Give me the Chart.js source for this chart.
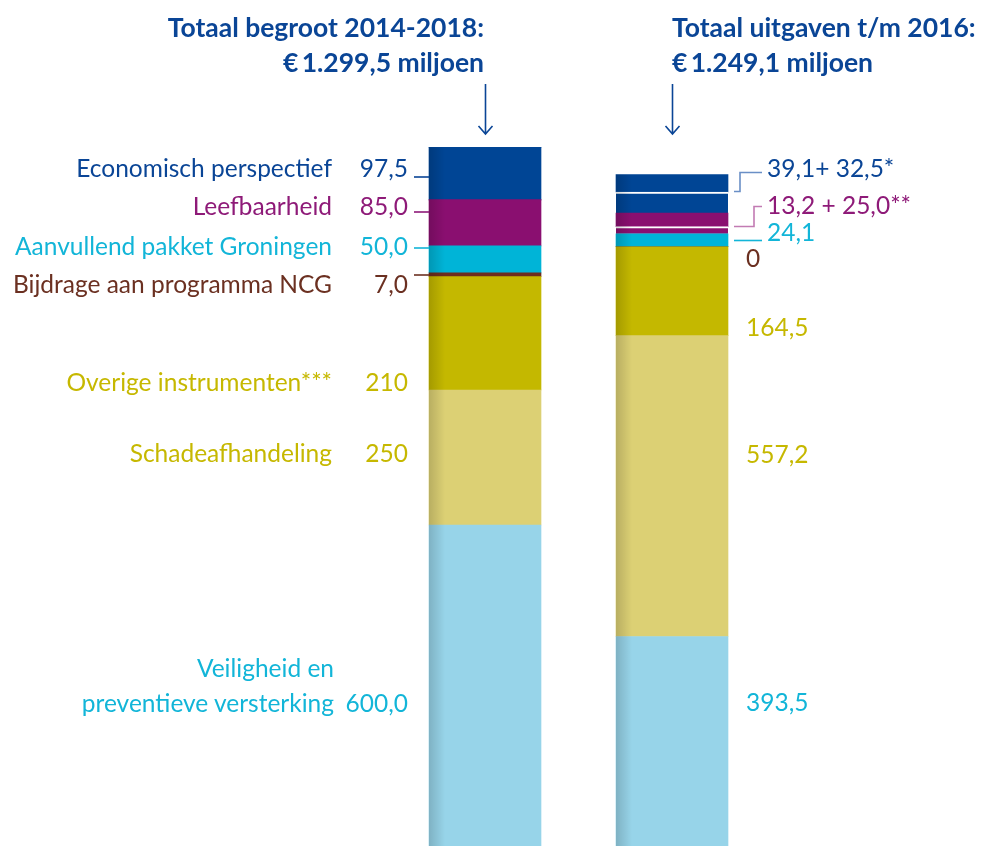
<!DOCTYPE html>
<html lang="nl">
<head>
    <meta charset="UTF-8">
    <title>Begroot en uitgaven</title>
    <script src="https://cdn.jsdelivr.net/npm/chart.js@4.4.1/dist/chart.umd.min.js"></script>
    <style>
        body, html {
            margin: 0;
            padding: 0;
            background: #fff;
        }
        .wrap {
            position: relative;
            width: 985px;
            height: 846px;
            overflow: hidden;
            font-family: Lato, "Open Sans", sans-serif;
        }
        canvas {
            position: absolute;
            left: 0;
            top: 0;
        }
        .t {
            position: absolute;
            white-space: nowrap;
            font-size: 24.5px;
            line-height: 28px;
            transform: translateY(-50%);
        }
        .r { text-align: right; }
        .title {
            font-weight: bold;
            font-size: 26.5px;
            line-height: 35px;
            color: #0a4596;
            transform: none;
        }
        .blue { color: #0a4596; }
        .purple { color: #8e1a78; }
        .cyan { color: #12b5d8; }
        .brown { color: #6b3021; }
        .olive { color: #c6b800; }
    </style>
</head>
<body>
<div class="wrap">
    <canvas id="budgetChart" width="985" height="846"></canvas>

    <!-- titels -->
    <div class="t title r" style="right:501px; top:10px;">Totaal begroot 2014-2018:<br>€&#8201;1.299,5 miljoen</div>
    <div class="t title" style="left:672px; top:10px;">Totaal uitgaven t/m 2016:<br>€&#8201;1.249,1 miljoen</div>

    <!-- labels links -->
    <div class="t r blue" style="right:653px; top:168px;">Economisch perspectief</div>
    <div class="t r blue" style="right:577px; top:168px;">97,5</div>
    <div class="t r purple" style="right:653px; top:206px;">Leefbaarheid</div>
    <div class="t r purple" style="right:577px; top:206px;">85,0</div>
    <div class="t r cyan" style="right:653px; top:246px;">Aanvullend pakket Groningen</div>
    <div class="t r cyan" style="right:577px; top:246px;">50,0</div>
    <div class="t r brown" style="right:653px; top:284px;">Bijdrage aan programma NCG</div>
    <div class="t r brown" style="right:577px; top:284px;">7,0</div>
    <div class="t r olive" style="right:653px; top:382px;">Overige instrumenten***</div>
    <div class="t r olive" style="right:577px; top:382px;">210</div>
    <div class="t r olive" style="right:653px; top:453px;">Schadeafhandeling</div>
    <div class="t r olive" style="right:577px; top:453px;">250</div>
    <div class="t r cyan" style="right:651px; top:668px;">Veiligheid en</div>
    <div class="t r cyan" style="right:651px; top:703px;">preventieve versterking</div>
    <div class="t r cyan" style="right:577px; top:703px;">600,0</div>

    <!-- labels rechts -->
    <div class="t blue" style="left:767px; top:168px;">39,1+ 32,5*</div>
    <div class="t purple" style="left:767px; top:205px;">13,2 + 25,0**</div>
    <div class="t cyan" style="left:767px; top:232px;">24,1</div>
    <div class="t brown" style="left:746px; top:258px;">0</div>
    <div class="t olive" style="left:746px; top:327px;">164,5</div>
    <div class="t olive" style="left:746px; top:454px;">557,2</div>
    <div class="t cyan" style="left:746px; top:702px;">393,5</div>
</div>

<script>
    // kolommen
    const bars = ['Begroot 2014-2018', 'Uitgaven t/m 2016'];

    // bedragen in miljoen euro, van onder naar boven
    const veiligheid = [600.0, 393.5];
    const schade = [250, 557.2];
    const overige = [210, 164.5];
    const bijdrage = [7.0, 0];
    const aanvullend = [50.0, 24.1];
    const leefbaarheid = [85.0, 13.2];
    const leefbaarheidExtra = [0, 25.0];
    const economisch = [97.5, 39.1];
    const economischExtra = [0, 32.5];

    const noBorder = 0;
    const whiteTop = {top: 2, right: 0, bottom: 0, left: 0};

    function ds(label, data, color, borderWidth) {
        return {
            label: label,
            data: data,
            backgroundColor: color,
            borderColor: '#ffffff',
            borderWidth: borderWidth || 0,
            borderSkipped: 'start'
        };
    }

    // donkere rand links op de kolommen
    const shadePlugin = {
        id: 'shade',
        afterDatasetsDraw(chart) {
            const ctx = chart.ctx;
            const area = chart.chartArea;
            const meta = chart.getDatasetMeta(0);
            ctx.save();
            meta.data.forEach((bar, i) => {
                const left = bar.x - bar.width / 2;
                const total = chart.data.datasets.reduce((s, d) => s + d.data[i], 0);
                const top = chart.scales.y.getPixelForValue(total);
                const g = ctx.createLinearGradient(left, 0, left + 16, 0);
                g.addColorStop(0, 'rgba(0,0,0,0.16)');
                g.addColorStop(1, 'rgba(0,0,0,0)');
                ctx.fillStyle = g;
                ctx.fillRect(left, top, 16, area.bottom - top);
            });
            ctx.restore();
        }
    };

    // pijlen en verbindingslijnen
    const linesPlugin = {
        id: 'lines',
        afterDraw(chart) {
            const ctx = chart.ctx;
            const meta = chart.getDatasetMeta(0);
            ctx.save();
            ctx.lineWidth = 1.6;

            // pijlen boven de kolommen
            ctx.strokeStyle = '#0a4596';
            meta.data.forEach(bar => {
                const x = Math.round(bar.x) + 0.5;
                ctx.beginPath();
                ctx.moveTo(x, 84);
                ctx.lineTo(x, 134);
                ctx.moveTo(x - 7, 126);
                ctx.lineTo(x, 134);
                ctx.lineTo(x + 7, 126);
                ctx.stroke();
            });

            // links
            const l = [[177, '#0a4596'], [212, '#8e1a78'], [248, '#12b5d8'], [275, '#6b3021']];
            l.forEach(([y, c]) => {
                ctx.strokeStyle = c;
                ctx.beginPath();
                ctx.moveTo(414, y);
                ctx.lineTo(429, y);
                ctx.stroke();
            });

            // rechts
            const r = [
                ['#6a8fc6', [[734, 191.5], [740, 191.5], [740, 172.5], [762, 172.5]]],
                ['#c27bb3', [[734, 226.5], [754, 226.5], [754, 206.5], [762, 206.5]]],
                ['#12b5d8', [[734, 240.5], [762, 240.5]]]
            ];
            r.forEach(([c, pts]) => {
                ctx.strokeStyle = c;
                ctx.beginPath();
                pts.forEach((p, i) => i ? ctx.lineTo(p[0], p[1]) : ctx.moveTo(p[0], p[1]));
                ctx.stroke();
            });
            ctx.restore();
        }
    };

    const context = document.getElementById('budgetChart').getContext('2d');
    const budgetChart = new Chart(context, {
        type: 'bar',
        data: {
            labels: bars,
            datasets: [
                ds('Veiligheid en preventieve versterking', veiligheid, '#97d4e9'),
                ds('Schadeafhandeling', schade, '#dcd074'),
                ds('Overige instrumenten', overige, '#c4b800'),
                ds('Bijdrage aan programma NCG', bijdrage, '#6e2d1e'),
                ds('Aanvullend pakket Groningen', aanvullend, '#00b4d7'),
                ds('Leefbaarheid', leefbaarheid, '#8a0f70', [noBorder, whiteTop]),
                ds('Leefbaarheid extra', leefbaarheidExtra, '#8a0f70'),
                ds('Economisch perspectief', economisch, '#004595', [noBorder, whiteTop]),
                ds('Economisch perspectief extra', economischExtra, '#004595')
            ]
        },
        options: {
            responsive: false,
            animation: false,
            barThickness: 112,
            layout: {
                padding: {left: 391.5, right: 219.5, top: 93, bottom: 0}
            },
            plugins: {
                legend: {display: false},
                tooltip: {enabled: false}
            },
            scales: {
                x: {stacked: true, display: false},
                y: {stacked: true, display: false, min: 5.5, max: 1400}
            }
        },
        plugins: [shadePlugin, linesPlugin]
    });
</script>
</body>
</html>
